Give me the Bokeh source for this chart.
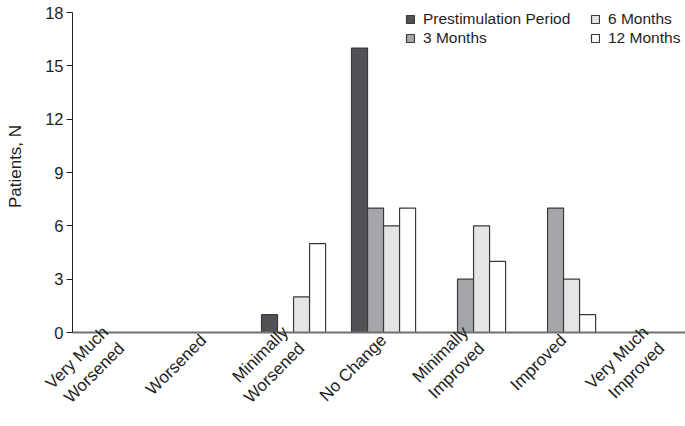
import math
from bokeh.plotting import figure
from bokeh.models import FixedTicker, Legend, LegendItem, Range1d
from bokeh.embed import file_html
from bokeh.resources import INLINE

categories = ["Very Much\nWorsened", "Worsened", "Minimally\nWorsened", "No Change",
              "Minimally\nImproved", "Improved", "Very Much\nImproved"]
series_names = ["Prestimulation Period", "3 Months", "6 Months", "12 Months"]
prestim = [0, 0, 1, 16, 0, 0, 0]
months3 = [0, 0, 0, 7, 3, 7, 0]
months6 = [0, 0, 2, 6, 6, 3, 0]
months12 = [0, 0, 5, 7, 4, 1, 0]
y_ticks = [0, 3, 6, 9, 12, 15, 18]
y_label = "Patients, N"

series_values = [prestim, months3, months6, months12]
colors = ["#505257", "#a5a6a9", "#e4e5e7", "#ffffff"]
FONT = "Liberation Sans"
TXT = "#1e1e1e"

# frame reaches the top of the canvas (legend sits inside it); the axis line stops at 18
p = figure(width=685, height=426, output_backend="svg", toolbar_location=None,
           x_range=Range1d(-0.456, 6.355), y_range=Range1d(0, 18.675),
           min_border_left=72, min_border_top=0, min_border_right=0, min_border_bottom=94)
p.grid.visible = False
p.outline_line_color = None

bw = 0.178
offsets = [-1.5 * bw, -0.5 * bw, 0.5 * bw, 1.5 * bw]
renderers = []
for vals, col, off in zip(series_values, colors, offsets):
    xs = [i + off for i, v in enumerate(vals) if v > 0]
    tops = [v for v in vals if v > 0]
    r = p.vbar(x=xs, top=tops, width=bw, bottom=0, fill_color=col,
               line_color="#3a3a3a", line_width=1.2)
    renderers.append(r)

# x axis
xa = p.xaxis[0]
xa.ticker = FixedTicker(ticks=list(range(len(categories))))
xa.major_label_overrides = {i: c for i, c in enumerate(categories)}
xa.major_label_orientation = math.pi / 4
xa.major_tick_line_color = None
xa.major_tick_out = 0
xa.major_tick_in = 0
xa.minor_tick_line_color = None
xa.axis_line_color = "#707070"
xa.axis_line_width = 1.8
xa.major_label_text_font = FONT
xa.major_label_text_font_size = "17px"
xa.major_label_text_color = TXT
xa.major_label_standoff = 5

# y axis
ya = p.yaxis[0]
ya.ticker = FixedTicker(ticks=y_ticks)
ya.bounds = (0, 18)
ya.minor_tick_line_color = None
ya.major_tick_in = 0
ya.major_tick_out = 6
ya.axis_line_color = "#222222"
ya.major_tick_line_color = "#222222"
ya.major_label_text_font = FONT
ya.major_label_text_font_size = "16.5px"
ya.major_label_text_color = TXT
ya.major_label_standoff = 3
ya.axis_label = y_label
ya.axis_label_text_font = FONT
ya.axis_label_text_font_size = "17px"
ya.axis_label_text_font_style = "normal"
ya.axis_label_text_color = TXT
ya.axis_label_standoff = 17


def make_legend(items, x, y):
    lg = Legend(items=items, location=(x, y), orientation="vertical",
                border_line_color=None, background_fill_alpha=0,
                padding=0, margin=0, spacing=0, glyph_width=10, glyph_height=10,
                label_height=19, label_standoff=8,
                label_text_font=FONT, label_text_font_size="15.5px",
                label_text_color=TXT)
    p.add_layout(lg, "center")


make_legend([LegendItem(label=series_names[0], renderers=[renderers[0]]),
             LegendItem(label=series_names[1], renderers=[renderers[1]])], 333, 285)
make_legend([LegendItem(label=series_names[2], renderers=[renderers[2]]),
             LegendItem(label=series_names[3], renderers=[renderers[3]])], 518, 285)

open("out.html", "w").write(file_html(p, INLINE))
